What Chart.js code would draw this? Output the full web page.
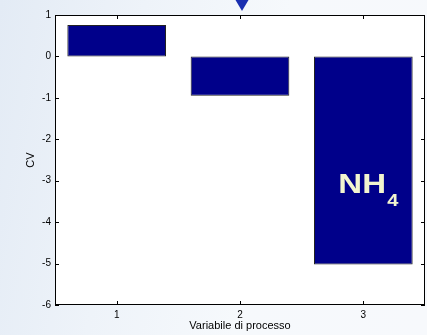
<!DOCTYPE html>
<html><head><meta charset="utf-8">
<script src="https://cdn.jsdelivr.net/npm/chart.js@4/dist/chart.umd.min.js"></script>
<style>
html,body{margin:0;padding:0;width:427px;height:335px;overflow:hidden;
background:linear-gradient(100deg,#e3ebf5 0%,#eef3f9 30%,#f6f9fc 60%,#f7f9fc 100%);}
#wrap{position:absolute;left:0;top:0;width:427px;height:335px;}
</style></head><body>
<div id="wrap"><canvas id="c" width="427" height="335"></canvas></div>
<script>
const categories = ['1','2','3'];
const cvValues = [0.76, -0.95, -5.02];
const yTicks = [1,0,-1,-2,-3,-4,-5,-6];
const xTitle = 'Variabile di processo';
const yTitle = 'CV';

const deco = {
  id:'deco',
  beforeDraw(chart){
    const {ctx, chartArea:a} = chart;
    ctx.save();
    ctx.fillStyle='#ffffff';
    ctx.fillRect(a.left,a.top,a.right-a.left,a.bottom-a.top);
    ctx.restore();
  },
  afterDraw(chart){
    const {ctx, chartArea:a, scales} = chart;
    const x = scales.x, y = scales.y;
    ctx.save();
    ctx.strokeStyle='#000'; ctx.lineWidth=1;
    ctx.strokeRect(a.left+0.5,a.top+0.5,a.right-a.left-1,a.bottom-a.top-1);
    ctx.beginPath();
    yTicks.forEach(v=>{
      const py=Math.round(y.getPixelForValue(v))+0.5;
      ctx.moveTo(a.left,py); ctx.lineTo(a.left+4,py);
      ctx.moveTo(a.right,py); ctx.lineTo(a.right-4,py);
    });
    categories.forEach((c,i)=>{
      const px=Math.round(x.getPixelForValue(i))+0.5;
      ctx.moveTo(px,a.bottom); ctx.lineTo(px,a.bottom-4);
      ctx.moveTo(px,a.top); ctx.lineTo(px,a.top+4);
    });
    ctx.stroke();
    ctx.fillStyle='#000';
    ctx.font='11px "Liberation Sans", Arial, sans-serif';
    ctx.textAlign='center'; ctx.textBaseline='middle';
    ctx.fillText(xTitle,(a.left+a.right)/2,326);
    ctx.save();
    ctx.translate(31,(a.top+a.bottom)/2);
    ctx.rotate(-Math.PI/2);
    ctx.fillText(yTitle,0,0);
    ctx.restore();
    // NH4 label
    const cx = x.getPixelForValue(2);
    const by = y.getPixelForValue(-3.29);
    ctx.fillStyle='#f2f5cf';
    ctx.save();
    ctx.translate(cx-25,by);
    ctx.scale(1.18,1);
    ctx.font='bold 28px "Liberation Sans", Arial, sans-serif';
    ctx.textAlign='left'; ctx.textBaseline='alphabetic';
    ctx.fillText('NH',0,0);
    const w=ctx.measureText('NH').width;
    ctx.font='bold 17px "Liberation Sans", Arial, sans-serif';
    ctx.fillText('4',w+1,13);
    ctx.restore();
    // triangle marker
    const tx = x.getPixelForValue(1)+2;
    ctx.fillStyle='#1a2fb0';
    ctx.beginPath();
    ctx.moveTo(tx-6.5,0); ctx.lineTo(tx+6.5,0); ctx.lineTo(tx,11); ctx.closePath();
    ctx.fill();
    ctx.restore();
  }
};

new Chart(document.getElementById('c'),{
  type:'bar',
  data:{labels:categories,datasets:[{data:cvValues,backgroundColor:'#00008a',borderColor:'#222',borderWidth:1,borderSkipped:false,barPercentage:0.8,categoryPercentage:1}]},
  options:{
    responsive:false,animation:false,
    layout:{padding:{left:0,right:2,top:15,bottom:0}},
    plugins:{legend:{display:false},tooltip:{enabled:false}},
    scales:{
      x:{offset:true,grid:{display:false,drawTicks:false},border:{display:false},
        ticks:{color:'#000',font:{size:10,family:'"Liberation Sans", Arial, sans-serif'},padding:4},
        afterFit(s){s.height=30;}},
      y:{min:-6,max:1,grid:{display:false,drawTicks:false},border:{display:false},
        afterBuildTicks(s){s.ticks=yTicks.map(v=>({value:v}));},
        ticks:{color:'#000',font:{size:10,family:'"Liberation Sans", Arial, sans-serif'},padding:4},
        afterFit(s){s.width=55;}}
    }
  },
  plugins:[deco]
});
</script>
</body></html>
